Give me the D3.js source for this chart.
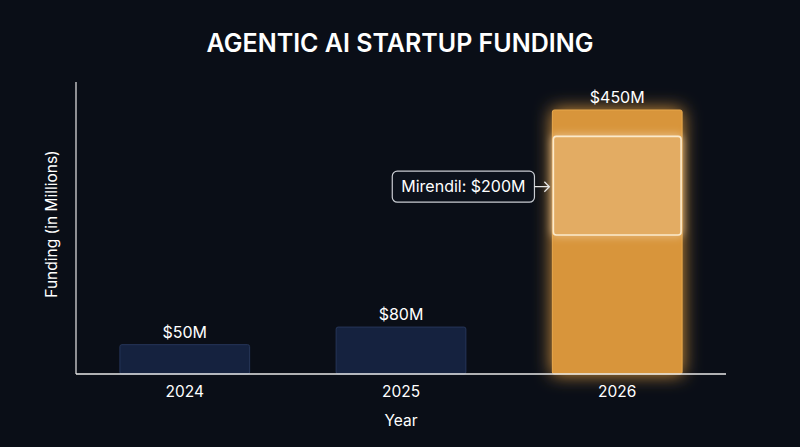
<!DOCTYPE html>
<html>
<head>
<meta charset="utf-8">
<script src="https://cdn.jsdelivr.net/npm/d3@7"></script>
<style>
  html, body { margin: 0; padding: 0; background: #0a0e17; }
  svg { display: block; font-family: Inter, "Noto Sans", sans-serif; }
</style>
</head>
<body>
<script>
// data
var years = ["2024", "2025", "2026"];
var funding = [50, 80, 450];
var highlightYear = "2026";
var mirendilLabel = "Mirendil: $200M";
var mirendilBand = [237, 405]; // value range of the highlighted slice

var W = 800, H = 447;
var margin = { top: 82, right: 74, bottom: 73, left: 76 };
var width = W - margin.left - margin.right,
    height = H - margin.top - margin.bottom;

var svg = d3.select("body").append("svg")
    .attr("width", W)
    .attr("height", H);

var defs = svg.append("defs");
var glow = defs.append("filter").attr("id", "glow")
    .attr("x", "-40%").attr("y", "-40%").attr("width", "180%").attr("height", "180%");
glow.append("feGaussianBlur").attr("in", "SourceGraphic").attr("stdDeviation", 9).attr("result", "b");
var m = glow.append("feMerge");
m.append("feMergeNode").attr("in", "b");
m.append("feMergeNode").attr("in", "SourceGraphic");

var glow2 = defs.append("filter").attr("id", "glow2")
    .attr("x", "-30%").attr("y", "-30%").attr("width", "160%").attr("height", "160%");
glow2.append("feGaussianBlur").attr("in", "SourceGraphic").attr("stdDeviation", 4).attr("result", "b");
var m2 = glow2.append("feMerge");
m2.append("feMergeNode").attr("in", "b");
m2.append("feMergeNode").attr("in", "SourceGraphic");

var g = svg.append("g")
    .attr("transform", "translate(" + margin.left + "," + margin.top + ")");

var x = d3.scaleBand()
    .domain(years)
    .range([0, width])
    .paddingInner(0.4)
    .paddingOuter(0.203);

var y = d3.scaleLinear()
    .domain([0, 450])
    .range([height, 28]);

// title
svg.append("text")
    .attr("x", W / 2)
    .attr("y", 52)
    .attr("text-anchor", "middle")
    .attr("fill", "#ffffff")
    .attr("font-size", 25)
    .attr("font-weight", 600)
    .text("AGENTIC AI STARTUP FUNDING");

// bars
var rows = years.map(function (d, i) { return { year: d, value: funding[i] }; });

g.selectAll(".bar")
    .data(rows)
    .enter().append("rect")
    .attr("class", "bar")
    .attr("x", function (d) { return x(d.year); })
    .attr("y", function (d) { return y(d.value); })
    .attr("width", x.bandwidth())
    .attr("height", function (d) { return height - y(d.value); })
    .attr("rx", 2)
    .attr("fill", function (d) { return d.year === highlightYear ? "#d8953a" : "#15223f"; })
    .attr("stroke", function (d) { return d.year === highlightYear ? "#e8a84c" : "#263659"; })
    .attr("stroke-width", 1)
    .attr("filter", function (d) { return d.year === highlightYear ? "url(#glow)" : null; });

// value labels
g.selectAll(".val")
    .data(rows)
    .enter().append("text")
    .attr("class", "val")
    .attr("x", function (d) { return x(d.year) + x.bandwidth() / 2; })
    .attr("y", function (d) { return y(d.value) - 7; })
    .attr("text-anchor", "middle")
    .attr("fill", "#ffffff")
    .attr("font-size", 16)
    .text(function (d) { return "$" + d.value + "M"; });

// mirendil slice
var bx = x(highlightYear);
g.append("rect")
    .attr("x", bx + 1)
    .attr("y", y(mirendilBand[1]))
    .attr("width", x.bandwidth() - 2)
    .attr("height", y(mirendilBand[0]) - y(mirendilBand[1]))
    .attr("rx", 3)
    .attr("fill", "#e3ac63")
    .attr("stroke", "#fbeacb")
    .attr("stroke-width", 1.6)
    .attr("filter", "url(#glow2)");

// callout
var cy = (y(mirendilBand[0]) + y(mirendilBand[1])) / 2 + 1;
var callout = g.append("g");
var lbl = callout.append("text")
    .attr("x", bx - 89)
    .attr("y", cy + 5.5)
    .attr("text-anchor", "middle")
    .attr("fill", "#ffffff")
    .attr("font-size", 16)
    .text(mirendilLabel);
var bb = lbl.node().getBBox();
callout.insert("rect", "text")
    .attr("x", bb.x - 9)
    .attr("y", cy - 15.5)
    .attr("width", bb.width + 18)
    .attr("height", 31)
    .attr("rx", 5)
    .attr("fill", "#0c111b")
    .attr("stroke", "#c9ccd2")
    .attr("stroke-width", 1.2);
callout.append("path")
    .attr("d", "M" + (bb.x + bb.width + 9) + "," + cy + "H" + (bx - 3)
        + "M" + (bx - 8) + "," + (cy - 5) + "L" + (bx - 3) + "," + cy + "L" + (bx - 8) + "," + (cy + 5))
    .attr("fill", "none")
    .attr("stroke", "#e6e6e6")
    .attr("stroke-width", 1.3);

// axes
var xAxis = d3.axisBottom(x).tickSize(0).tickPadding(12);
var xg = g.append("g")
    .attr("transform", "translate(0," + height + ")")
    .call(xAxis);
xg.select(".domain").remove();
xg.selectAll("text")
    .attr("fill", "#ffffff")
    .attr("font-size", 15.5)
    .attr("font-family", "Inter, 'Noto Sans', sans-serif");

g.append("line")
    .attr("x1", 0).attr("x2", width)
    .attr("y1", height).attr("y2", height)
    .attr("stroke", "#e8e8e8")
    .attr("stroke-width", 1.5);
g.append("line")
    .attr("x1", 0).attr("x2", 0)
    .attr("y1", 0).attr("y2", height)
    .attr("stroke", "#e8e8e8")
    .attr("stroke-width", 1.2);

// axis titles
svg.append("text")
    .attr("x", margin.left + width / 2)
    .attr("y", 426)
    .attr("text-anchor", "middle")
    .attr("fill", "#ffffff")
    .attr("font-size", 15.5)
    .text("Year");

svg.append("text")
    .attr("transform", "translate(57," + 224 + ") rotate(-90)")
    .attr("text-anchor", "middle")
    .attr("fill", "#ffffff")
    .attr("font-size", 15.5)
    .text("Funding (in Millions)");
</script>
</body>
</html>
